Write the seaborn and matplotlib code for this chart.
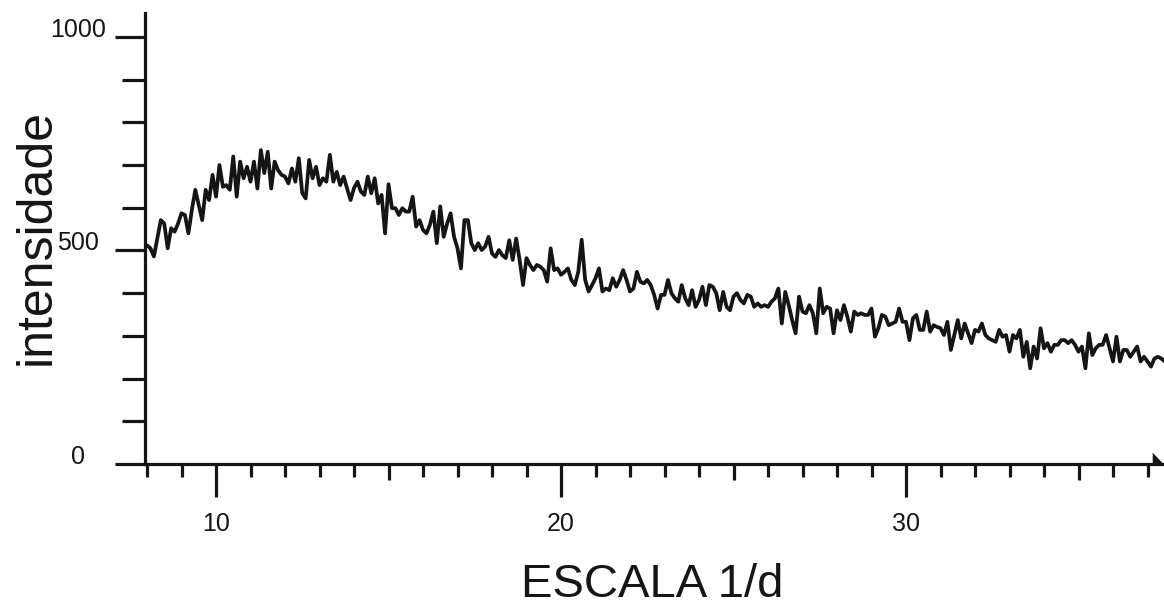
import numpy as np
import matplotlib
matplotlib.use("Agg")
import matplotlib.pyplot as plt
import seaborn as sns

x_start = 8.0
x_step = 0.1
intensity = [
    512, 505, 486, 528, 571, 563, 505, 552, 544, 563,   # 8
    587, 583, 540, 595, 642, 606, 571, 642, 618, 677,   # 9
    626, 700, 649, 653, 642, 720, 626, 708, 669, 696,   # 10
    661, 708, 645, 735, 681, 731, 645, 708, 688, 677,   # 11
    673, 657, 692, 661, 716, 634, 622, 712, 669, 696,   # 12
    653, 669, 661, 724, 661, 684, 653, 673, 645, 618,   # 13
    646, 661, 638, 630, 673, 634, 669, 610, 630, 540,   # 14
    655, 599, 599, 583, 599, 591, 591, 626, 556, 571,   # 15
    548, 540, 560, 591, 517, 603, 532, 563, 587, 532,   # 16
    505, 458, 571, 571, 517, 501, 517, 501, 509, 532,   # 17
    493, 485, 501, 489, 482, 524, 478, 528, 478, 419,   # 18
    482, 466, 454, 466, 462, 454, 427, 505, 454, 458,   # 19
    443, 450, 458, 431, 419, 450, 525, 431, 404, 419,   # 20
    435, 458, 404, 411, 407, 435, 415, 431, 454, 431,   # 21
    404, 411, 450, 427, 423, 431, 419, 396, 364, 396,   # 22
    396, 431, 400, 388, 380, 419, 388, 372, 407, 368,   # 23
    384, 415, 372, 419, 415, 400, 360, 403, 368, 360,   # 24
    392, 400, 384, 376, 396, 392, 368, 376, 368, 372,   # 25
    368, 380, 388, 411, 329, 403, 372, 337, 306, 392,   # 26
    357, 353, 372, 353, 306, 411, 353, 368, 364, 306,   # 27
    360, 337, 372, 345, 310, 357, 349, 353, 349, 349,   # 28
    364, 298, 318, 349, 345, 325, 329, 333, 364, 333,   # 29
    333, 290, 341, 349, 314, 314, 357, 310, 325, 321,   # 30
    318, 302, 333, 267, 302, 337, 294, 329, 306, 283,   # 31
    314, 310, 329, 302, 294, 290, 286, 314, 298, 302,   # 32
    263, 302, 294, 314, 251, 286, 224, 275, 247, 318,   # 33
    271, 283, 263, 279, 279, 290, 290, 283, 290, 279,   # 34
    263, 275, 224, 306, 255, 271, 279, 279, 302, 271,   # 35
    240, 298, 240, 267, 267, 251, 263, 275, 240, 251,   # 36
    240, 228, 247, 251, 247, 240,                       # 37
]
scale = x_start + x_step * np.arange(len(intensity))

x_major = [10, 20, 30]
x_mid = [15, 25, 35]
x_minor = [v for v in range(8, 38) if v % 5 != 0]
y_major = [0, 500, 1000]
y_minor = [100, 200, 300, 400, 600, 700, 800, 900]

ink = "#151515"

sns.set_style("ticks")
plt.rcParams["font.family"] = ["Liberation Sans", "DejaVu Sans"]

W, H = 1164, 608
fig = plt.figure(figsize=(W / 100, H / 100), dpi=100)
ax = fig.add_axes([145 / W, 1 - 464 / H, (W - 145) / W, (464 - 13) / H])

sns.lineplot(x=scale, y=intensity, ax=ax, color=ink, linewidth=2.7)

ax.set_xlim(7.942, 37.478)
ax.set_ylim(0, 1056)

for side in ["top", "right"]:
    ax.spines[side].set_visible(False)
for side in ["left", "bottom"]:
    ax.spines[side].set_linewidth(2.3)
    ax.spines[side].set_color(ink)

ax.set_xticks(x_major)
ax.set_xticks(x_minor, minor=True)
ax.set_yticks(y_major)
ax.set_yticks(y_minor, minor=True)
ax.set_xticklabels([str(v) for v in x_major])
ax.set_yticklabels([str(v) for v in y_major])

ax.tick_params(axis="x", which="major", length=23.8, width=2.3, color=ink,
               pad=10.5, labelsize=18, labelcolor=ink)
ax.tick_params(axis="x", which="minor", length=9.4, width=2.3, color=ink)
ax.tick_params(axis="y", which="major", length=21.6, width=2.3, color=ink,
               pad=26.6, labelsize=18, labelcolor=ink)
ax.tick_params(axis="y", which="minor", length=16.6, width=2.3, color=ink)
plt.setp(ax.get_yticklabels(), ha="center", va="baseline")

# slightly longer ticks at 15, 25, 35
sec = ax.secondary_xaxis("bottom")
sec.set_xticks(x_mid)
sec.set_xticks([], minor=True)
sec.tick_params(axis="x", length=11.5, width=2.3, color=ink, labelbottom=False)
sec.spines["bottom"].set_visible(False)

ax.set_xlabel("")
ax.set_ylabel("")

# arrow head at the end of the x axis
ax.plot([1], [0], transform=ax.transAxes, clip_on=False,
        marker=[(-1, -0.1), (-1, 1), (0.05, -0.1)], markersize=17,
        color=ink, markeredgewidth=0)

fig.text(50 / W, 1 - 237 / H, "intensidade", rotation=90, rotation_mode="anchor",
         ha="center", va="baseline", fontsize=36, color=ink)
fig.text(652 / W, 1 - 597 / H, "ESCALA 1/d", ha="center", va="baseline",
         fontsize=34, color=ink)

fig.savefig("out.png", dpi=100)
